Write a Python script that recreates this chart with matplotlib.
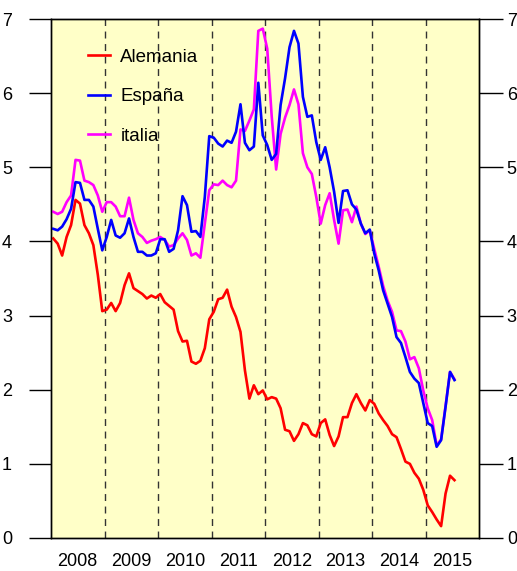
import matplotlib
matplotlib.use("Agg")
import matplotlib.pyplot as plt
import numpy as np

plt.rcParams['font.family'] = ['Liberation Sans', 'DejaVu Sans']

# Monthly 10-year bond yields, Jan 2008 .. Jul 2015
alemania = [4.04, 3.97, 3.81, 4.06, 4.22, 4.56, 4.51, 4.22, 4.11, 3.95, 3.55, 3.06,
            3.08, 3.17, 3.06, 3.17, 3.41, 3.57, 3.37, 3.33, 3.29, 3.23, 3.27, 3.24,
            3.29, 3.18, 3.13, 3.08, 2.79, 2.65, 2.66, 2.38, 2.35, 2.39, 2.56, 2.95,
            3.05, 3.22, 3.24, 3.35, 3.12, 2.98, 2.78, 2.26, 1.88, 2.06, 1.94, 1.99,
            1.87, 1.90, 1.88, 1.75, 1.46, 1.44, 1.31, 1.40, 1.55, 1.52, 1.40, 1.37,
            1.55, 1.60, 1.39, 1.24, 1.37, 1.63, 1.63, 1.82, 1.94, 1.82, 1.72, 1.86,
            1.81, 1.68, 1.59, 1.51, 1.40, 1.36, 1.20, 1.03, 1.00, 0.88, 0.80, 0.65,
            0.44, 0.35, 0.25, 0.16, 0.60, 0.84, 0.78]
espana = [4.17, 4.15, 4.20, 4.30, 4.44, 4.80, 4.79, 4.56, 4.56, 4.47, 4.17, 3.88,
          4.06, 4.29, 4.08, 4.05, 4.11, 4.31, 4.06, 3.86, 3.86, 3.81, 3.81, 3.84,
          4.03, 4.03, 3.86, 3.90, 4.15, 4.61, 4.49, 4.13, 4.14, 4.06, 4.60, 5.42,
          5.40, 5.32, 5.28, 5.36, 5.33, 5.48, 5.85, 5.33, 5.23, 5.28, 6.14, 5.43,
          5.30, 5.10, 5.18, 5.84, 6.20, 6.62, 6.84, 6.67, 5.95, 5.68, 5.70, 5.34,
          5.10, 5.27, 5.00, 4.67, 4.25, 4.68, 4.69, 4.50, 4.43, 4.24, 4.11, 4.16,
          3.84, 3.61, 3.34, 3.16, 2.98, 2.71, 2.63, 2.44, 2.24, 2.15, 2.09, 1.82,
          1.55, 1.51, 1.23, 1.32, 1.77, 2.24, 2.13]
italia = [4.40, 4.37, 4.40, 4.53, 4.62, 5.10, 5.09, 4.82, 4.80, 4.76, 4.62, 4.40,
          4.53, 4.53, 4.47, 4.34, 4.34, 4.59, 4.29, 4.11, 4.06, 3.98, 4.01, 4.03,
          4.06, 4.02, 3.93, 3.95, 4.04, 4.11, 4.02, 3.81, 3.84, 3.78, 4.24, 4.69,
          4.77, 4.76, 4.82, 4.76, 4.73, 4.82, 5.51, 5.49, 5.63, 5.78, 6.84, 6.87,
          6.60, 5.69, 4.97, 5.45, 5.67, 5.84, 6.05, 5.85, 5.19, 5.00, 4.91, 4.60,
          4.24, 4.49, 4.65, 4.29, 3.97, 4.42, 4.43, 4.26, 4.47, 4.24, 4.10, 4.15,
          3.90, 3.66, 3.40, 3.20, 3.05, 2.80, 2.79, 2.65, 2.41, 2.44, 2.29, 1.99,
          1.75, 1.59, 1.25, 1.33, 1.78, 2.24, 2.14]
start_year = 2008
years = [2008, 2009, 2010, 2011, 2012, 2013, 2014, 2015]
year_breaks = [2009, 2010, 2011, 2012, 2013, 2014, 2015]
y_ticks = [0, 1, 2, 3, 4, 5, 6, 7]

months = np.arange(len(alemania))
x = start_year + (months + 0.5) / 12.0

W, H = 517, 571
fig = plt.figure(figsize=(W / 100, H / 100), dpi=100)
ax = fig.add_axes([51 / W, 1 - 538 / H, (479 - 51) / W, (538 - 19) / H])
ax.set_facecolor('#ffffc8')

for b in year_breaks:
    ax.axvline(b, color='#333333', lw=1.0, linestyle=(0, (5, 4)), zorder=1)

l_de, = ax.plot(x, alemania, color='#ff0000', lw=1.9, zorder=3, label='Alemania')
l_it, = ax.plot(x, italia, color='#ff00ff', lw=1.9, zorder=3, label='italia')
l_es, = ax.plot(x, espana, color='#0000ff', lw=1.9, zorder=4, label='España')

ax.set_xlim(2008, 2016)
ax.set_ylim(0, 7)

ax.set_xticks([y + 0.5 for y in years])
ax.set_xticklabels([str(y) for y in years], fontsize=13)
ax.tick_params(axis='x', length=0, pad=11)

ax.set_yticks(y_ticks)
ax.set_yticklabels([str(v) for v in y_ticks], fontsize=13)
ax.tick_params(axis='y', length=16, width=1, pad=12, color='black')

ax2 = ax.twinx()
ax2.set_ylim(0, 7)
ax2.set_yticks(y_ticks)
ax2.set_yticklabels([str(v) for v in y_ticks], fontsize=13)
ax2.tick_params(axis='y', length=17, width=1, pad=3, color='black')

for a in (ax, ax2):
    for s in a.spines.values():
        s.set_color('black')
        s.set_linewidth(1.0)

leg = ax.legend(handles=[l_de, l_es, l_it], loc='upper left',
                bbox_to_anchor=((88 - 51) / 428, 0.943), frameon=False,
                fontsize=13.5, handlelength=1.17, handletextpad=0.55,
                labelspacing=1.19, borderpad=0, borderaxespad=0)
leg.set_zorder(5)

fig.savefig('out.png', dpi=100)
